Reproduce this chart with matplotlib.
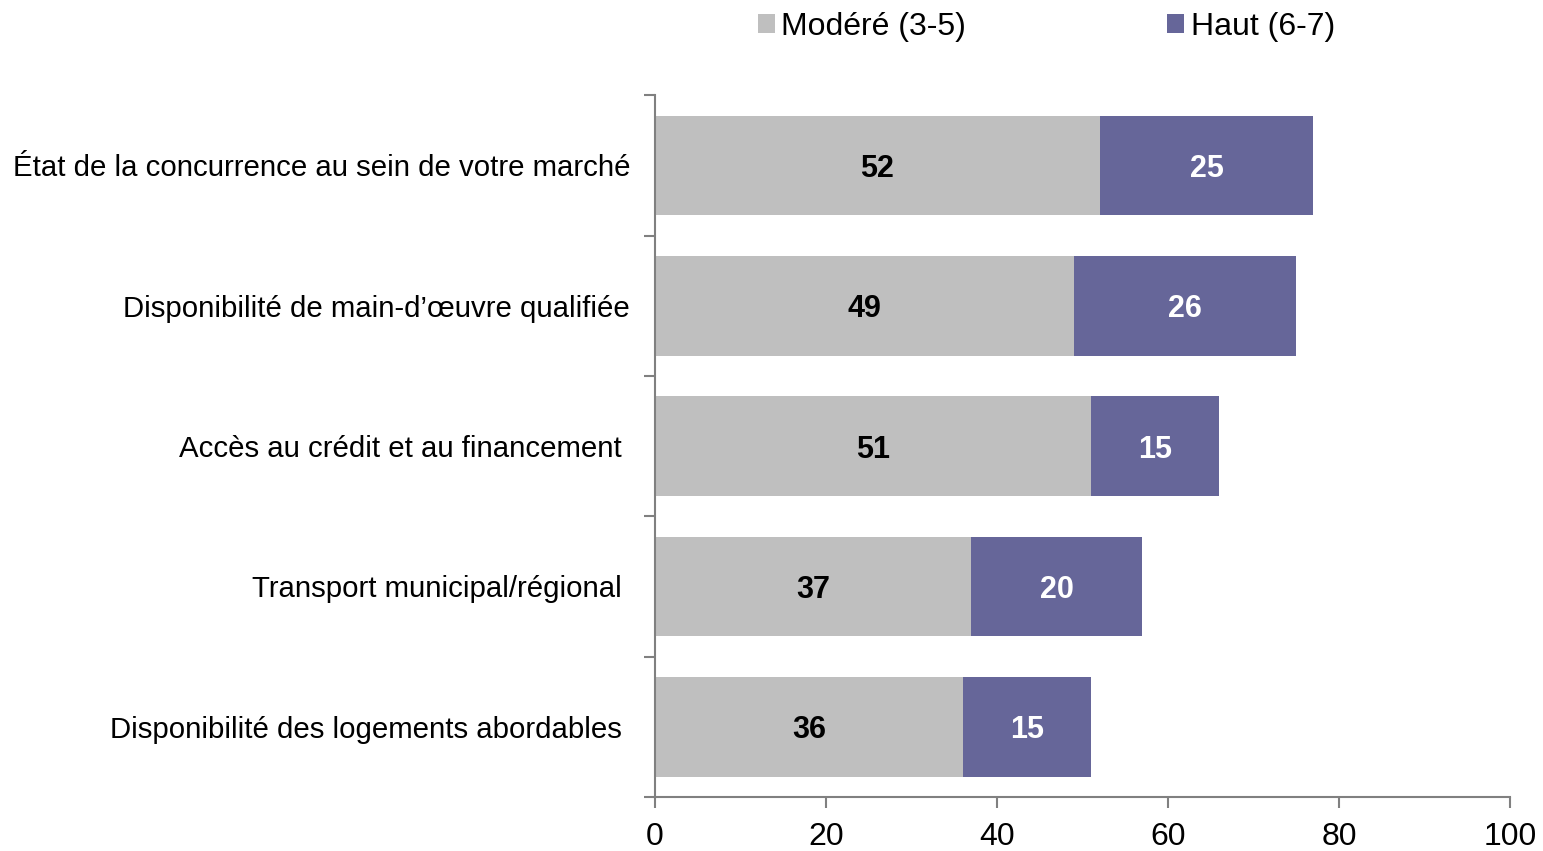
import matplotlib.pyplot as plt
import numpy as np

plt.rcParams["font.family"] = ["Liberation Sans", "DejaVu Sans"]

categories = [
    "État de la concurrence au sein de votre marché",
    "Disponibilité de main-d’œuvre qualifiée",
    "Accès au crédit et au financement ",
    "Transport municipal/régional ",
    "Disponibilité des logements abordables ",
]
modere = [52, 49, 51, 37, 36]
haut = [25, 26, 15, 20, 15]
series_names = ["Modéré (3-5)", "Haut (6-7)"]
x_ticks = [0, 20, 40, 60, 80, 100]

GRAY = "#BFBFBF"
PURPLE = "#666699"
AXIS = "#808080"

fig = plt.figure(figsize=(15.43, 8.51), dpi=100)
ax = fig.add_axes([0.4245, 0.0635, 0.5541, 0.8245])

y = np.arange(len(categories))
h = 0.71
b1 = ax.barh(y, modere, height=h, color=GRAY, label=series_names[0])
b2 = ax.barh(y, haut, left=modere, height=h, color=PURPLE, label=series_names[1])

for i in range(len(categories)):
    ax.text(modere[i] / 2, y[i], str(modere[i]), ha="center", va="center_baseline",
            fontsize=22, fontweight="bold", color="black")
    ax.text(modere[i] + haut[i] / 2, y[i], str(haut[i]), ha="center",
            va="center_baseline", fontsize=22, fontweight="bold", color="white")

ax.set_xlim(0, 100)
ax.set_ylim(len(categories) - 0.5, -0.5)
ax.set_xticks(x_ticks)
ax.set_xticklabels([str(t) for t in x_ticks], fontsize=23)

# category ticks sit between the bars, labels in the middle
ax.set_yticks(np.arange(len(categories) + 1) - 0.5)
ax.set_yticklabels([])
ax.set_yticks(y, minor=True)
ax.set_yticklabels(categories, minor=True, fontsize=21.2)
ax.tick_params(axis="y", which="minor", length=0, pad=18)
ax.tick_params(axis="y", which="major", length=8, width=1.5, color=AXIS)
ax.tick_params(axis="x", length=8, width=1.5, color=AXIS, pad=10)

for side in ["top", "right"]:
    ax.spines[side].set_visible(False)
for side in ["left", "bottom"]:
    ax.spines[side].set_color(AXIS)
    ax.spines[side].set_linewidth(1.5)

fig.legend(handles=[b1, b2], labels=series_names, loc="upper left",
           bbox_to_anchor=(742 / 1543, 1 + 4 / 851), ncol=2, frameon=False,
           fontsize=23, borderpad=0, handlelength=0.53, handleheight=0.53,
           handletextpad=0.2, columnspacing=6.3)

fig.savefig("out.png", dpi=100)
